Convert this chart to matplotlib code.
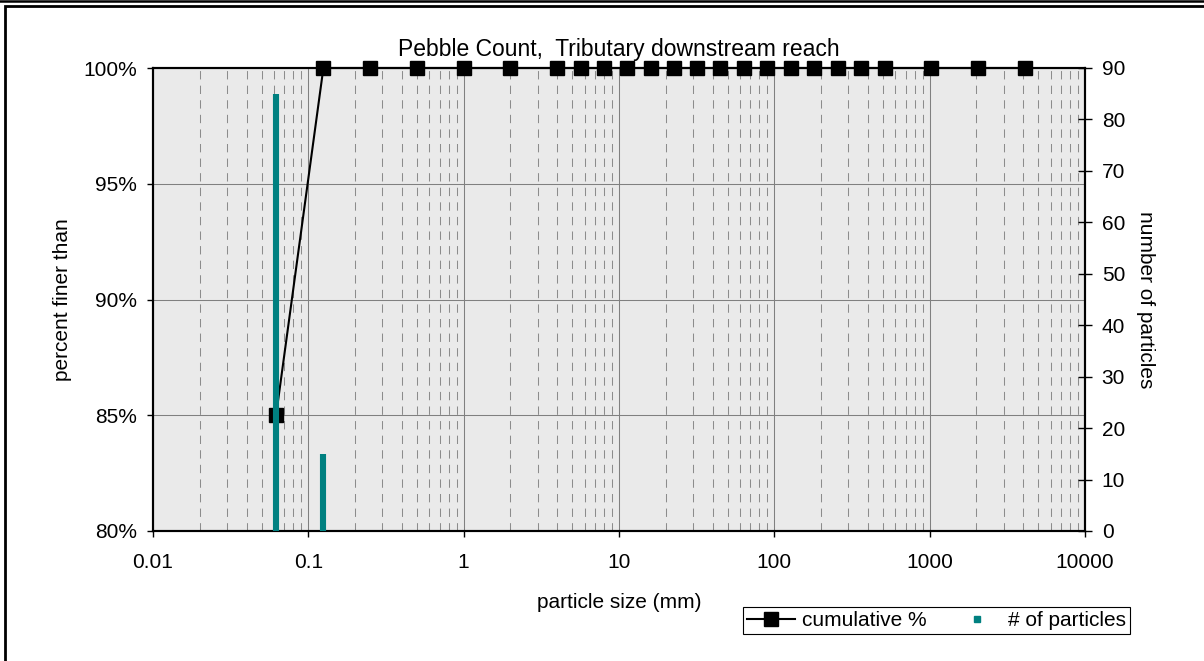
#Pebble count plot: cumulative % finer and particle counts per size class
import numpy as np
import matplotlib
matplotlib.use('Agg')
import matplotlib.pyplot as plt
from matplotlib.lines import Line2D
from matplotlib.patches import Rectangle
from matplotlib.ticker import LogLocator, NullFormatter, FuncFormatter

plt.rcParams['font.family'] = ['Liberation Sans', 'DejaVu Sans']
plt.rcParams['font.size'] = 15

#################################################################

#Data
sizes = [0.062, 0.125, 0.25, 0.5, 1, 2, 4, 5.7, 8, 11.3, 16, 22.6, 32, 45,
         64, 90, 128, 180, 256, 362, 512, 1024, 2048, 4096]
cum_pct = [85, 100, 100, 100, 100, 100, 100, 100, 100, 100, 100, 100, 100, 100,
           100, 100, 100, 100, 100, 100, 100, 100, 100, 100]
n_particles = [85, 15, 0, 0, 0, 0, 0, 0, 0, 0, 0, 0, 0, 0,
               0, 0, 0, 0, 0, 0, 0, 0, 0, 0]

x_ticks = [0.01, 0.1, 1, 10, 100, 1000, 10000]
x_ticklabels = ['0.01', '0.1', '1', '10', '100', '1000', '10000']
pct_ticks = [80, 85, 90, 95, 100]
count_ticks = [0, 10, 20, 30, 40, 50, 60, 70, 80, 90]

teal = '#008080'
W, H = 1204, 661

fig = plt.figure(figsize=(W / 100., H / 100.), dpi=100)
ax = fig.add_axes([153. / W, 1 - 531. / H, 932. / W, 463. / H])
ax.set_facecolor('#eaeaea')
ax.set_xscale('log')
ax.set_xlim(0.01, 10000)
ax.set_ylim(80, 100)

# grid: dashed minor decades, solid majors
ax.xaxis.set_minor_locator(LogLocator(base=10, subs=np.arange(2, 10)))
ax.xaxis.set_minor_formatter(NullFormatter())
ax.grid(which='minor', axis='x', color='#8c8c8c', lw=0.75, linestyle=(0, (8, 6)))
ax.grid(which='major', axis='both', color='#808080', lw=0.75, linestyle='-')
ax.set_axisbelow(True)

ax.plot(sizes, cum_pct, color='k', lw=1.5, marker='s', markersize=9.5,
        markerfacecolor='k', markeredgecolor='k', zorder=3, clip_on=False)

ax.set_xticks(x_ticks)
ax.set_xticklabels(x_ticklabels)
ax.set_yticks(pct_ticks)
ax.yaxis.set_major_formatter(FuncFormatter(lambda v, p: '%d%%' % v))
ax.tick_params(axis='x', which='major', direction='out', length=4.5, width=1, pad=11)
ax.tick_params(axis='x', which='minor', length=0)
ax.tick_params(axis='y', direction='out', length=4.5, width=1, pad=7)
for s in ax.spines.values():
    s.set_linewidth(1.5)
    s.set_color('k')

ax.set_title('Pebble Count,  Tributary downstream reach', fontsize=16.5, pad=8.5)
ax.set_xlabel('particle size (mm)', fontsize=15, va='center')
ax.xaxis.set_label_coords(0.5, -(603 - 531) / 463.)
ax.set_ylabel('percent finer than', fontsize=15, va='center')
ax.yaxis.set_label_coords((62 - 153) / 932., 0.5)

# particle counts on the secondary axis
ax2 = ax.twinx()
ax2.set_ylim(0, 90)
ax2.set_yticks(count_ticks)
ax2.vlines(sizes, 0, n_particles, color=teal, lw=4.4, zorder=4)
ax2.tick_params(axis='y', direction='inout', length=10, width=1, pad=7)
for s in ax2.spines.values():
    s.set_linewidth(1.5)
    s.set_color('k')
ax2.set_ylabel('number of particles', fontsize=15, rotation=-90, va='center')
ax2.yaxis.set_label_coords((1145 - 153) / 932., 0.5)

# legend below the plot area
handles = [Line2D([], [], color='k', lw=1.5, marker='s', markersize=9.5),
           Line2D([], [], color=teal, lw=0, marker='s', markersize=5)]
leg = fig.legend(handles, ['cumulative %', '# of particles'], loc='center',
                 bbox_to_anchor=(936.5 / W, 1 - 620.5 / H), ncol=2,
                 fontsize=15, frameon=True, fancybox=False, framealpha=1,
                 edgecolor='k', borderpad=0.2, handlelength=2.3,
                 handletextpad=0.3, columnspacing=1.3, borderaxespad=0)
leg.get_frame().set_linewidth(0.8)

# outer chart border
fig.add_artist(Rectangle((5. / W, -0.05), 1.2, 1.05 - 5.5 / H, transform=fig.transFigure,
                         fill=False, edgecolor='k', lw=2.0))
fig.add_artist(Line2D([0, 1], [1 - 1.0 / H, 1 - 1.0 / H], transform=fig.transFigure,
                      color='k', lw=1.8))

plt.savefig('out.png', dpi=100)
